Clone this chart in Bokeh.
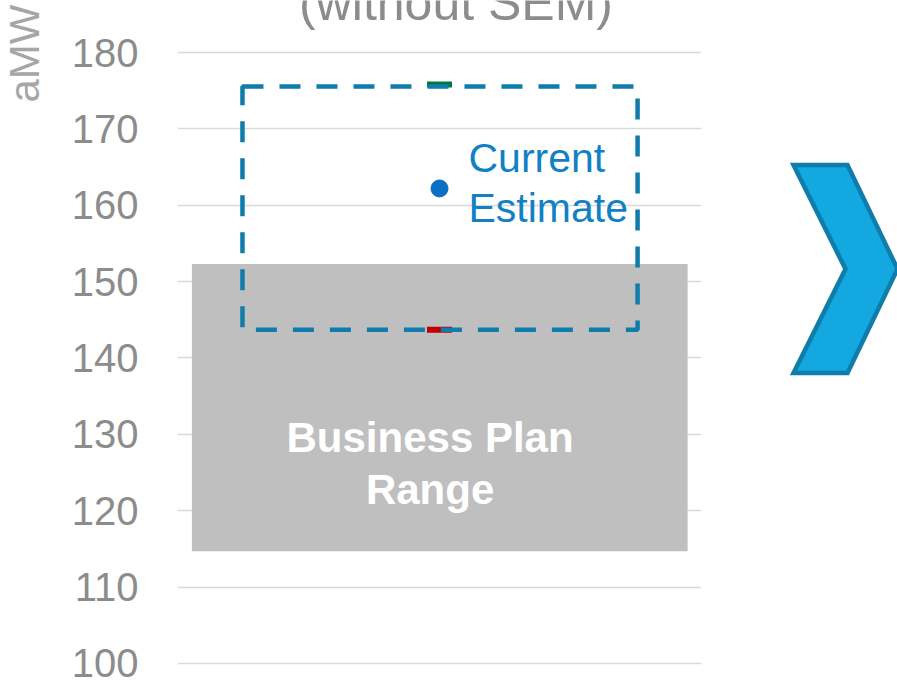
import math
from bokeh.plotting import figure
from bokeh.models import Range1d, FixedTicker, Label
from bokeh.layouts import row
from bokeh.embed import file_html
from bokeh.resources import INLINE
from bokeh.core.properties import value

# ---------------- data ----------------
y_ticks = [100, 110, 120, 130, 140, 150, 160, 170, 180]
plan_label = ["Business Plan", "Range"]
plan_range = [114.7, 152.3]          # low, high of business plan range
estimate_range = [143.7, 175.55]     # low, high of current estimate range (dashed box)
marker_values = [143.7, 175.8]       # low (red) / high (green) markers
marker_colors = ["#c00000", "#00793d"]
current_value = [162.2]
current_label = ["Current", "Estimate"]
title_text = "(without SEM)"
y_label = "aMW"

FONT = "Liberation Sans"


def blank_fig(width, x0, x1):
    f = figure(width=width, height=682, x_range=Range1d(x0, x1), y_range=Range1d(682, 0),
               output_backend="svg", toolbar_location=None, x_axis_location=None,
               y_axis_location=None, min_border=0)
    f.outline_line_color = None
    f.background_fill_color = "white"
    f.border_fill_color = "white"
    f.grid.grid_line_color = None
    return f


# left strip holding the rotated unit label
p0 = blank_fig(50, 0, 50)
p0.text(x=[24], y=[102], text=[y_label], angle=math.pi / 2, text_align="left",
        text_baseline="alphabetic", text_font=value(FONT), text_font_size="42px",
        text_color="#a6a6a6")

p = figure(width=690, height=682, x_range=Range1d(-1, 1), y_range=Range1d(97.51, 186.81),
           output_backend="svg", toolbar_location=None, x_axis_location=None,
           min_border_left=127, min_border_right=39, min_border_top=0, min_border_bottom=0)
p.outline_line_color = None
p.background_fill_color = "white"
p.border_fill_color = "white"
p.xgrid.grid_line_color = None

ax = p.yaxis[0]
ax.ticker = FixedTicker(ticks=y_ticks)
ax.axis_line_color = None
ax.major_tick_line_color = None
ax.minor_tick_line_color = None
ax.major_tick_out = 0
ax.major_tick_in = 0
ax.major_label_standoff = 39
ax.major_label_text_font = FONT
ax.major_label_text_font_size = "40px"
ax.major_label_text_color = "#8c8c8c"
p.ygrid.grid_line_color = "#d9d9d9"
p.ygrid.grid_line_width = 1.5

# business plan range box
p.quad(left=[-0.945], right=[0.947], bottom=[plan_range[0]], top=[plan_range[1]],
       fill_color="#bfbfbf", line_color=None)

# high / low markers
p.rect(x=[0, 0], y=marker_values, width=25, height=6, width_units="screen",
       height_units="screen", fill_color=marker_colors, line_color=None)

# dashed estimate box
p.quad(left=[-0.752], right=[0.756], bottom=[estimate_range[0]], top=[estimate_range[1]],
       fill_color=None, line_color="#0f7cab", line_width=4.5, line_dash="21 16")

# current estimate point
p.scatter(x=[0], y=current_value, size=17, color="#0a6fc2")

p.text(x=[0, 0], y=[current_value[0] + 4.05, current_value[0] - 2.59], text=current_label,
       x_offset=29, text_align="left", text_baseline="alphabetic",
       text_font=value(FONT), text_font_size="41px", text_color="#1181c4")

p.text(x=[-0.036, -0.036], y=[129.59, 122.78], text=plan_label,
       text_align="center", text_baseline="alphabetic", text_font=value(FONT),
       text_font_size="42px", text_font_style="bold", text_color="white")

p.add_layout(Label(x=0.063, y=186.42, text=title_text, text_align="center",
                   text_baseline="alphabetic", text_font=FONT, text_font_size="50px",
                   text_color="#8c8c8c"))

# chevron arrow (decoration), page-pixel coordinates
chev_x = [793, 847, 897, 847, 793, 845]
chev_y = [164.5, 164.5, 268.5, 372.5, 372.5, 268.5]

p2 = blank_fig(157, 740, 897)
p2.patch(x=chev_x, y=chev_y, fill_color="#13a8e0", line_color="#0e7dab",
         line_width=4.5, line_join="miter")

layout = row(p0, p, p2)
open("out.html", "w").write(file_html(layout, INLINE))
